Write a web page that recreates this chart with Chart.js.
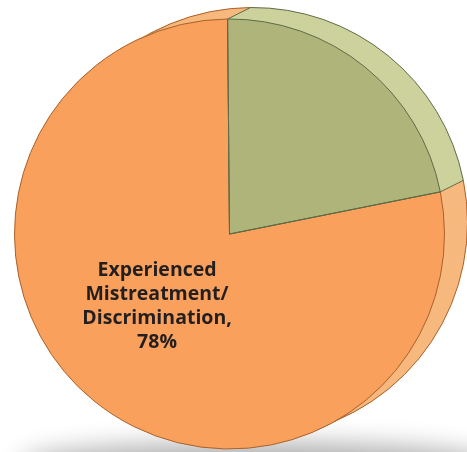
<!DOCTYPE html>
<html>
<head>
<meta charset="utf-8">
<script src="https://cdn.jsdelivr.net/npm/chart.js@4.4.0/dist/chart.umd.min.js"></script>
<style>
html,body{margin:0;padding:0;background:#fff;}
#wrap{position:relative;width:467px;height:452px;}
</style>
</head>
<body>
<div id="wrap"><canvas id="c"></canvas></div>
<script>
const categories = ['Experienced Mistreatment/ Discrimination', 'Other'];
const values = [78, 22];
const faceColors = ['#F8A05C', '#AFB47A'];
const rimColors = ['#F7B97F', '#CDD29D'];
const edgeColors = ['#A9622B', '#5F6B47'];
const labelLines = [['Experienced', 'Mistreatment/', 'Discrimination,', '78%'], null];

const DEPTH_X = 23, DEPTH_Y = -11.5;

const depthPlugin = {
  id: 'depth',
  beforeDatasetsDraw(chart) {
    const ctx = chart.ctx;
    const arcs = chart.getDatasetMeta(0).data;
    if (!arcs.length) return;
    const a0 = arcs[0];
    const cx = a0.x, cy = a0.y, r = a0.outerRadius;
    // floor shadow
    ctx.save();
    ctx.shadowColor = 'rgba(0,0,0,0.32)';
    ctx.shadowBlur = 26;
    ctx.shadowOffsetX = 2000;
    ctx.beginPath();
    ctx.ellipse(cx + 30 - 2000, cy + r + 16, r + 25, 22, 0, 0, Math.PI * 2);
    ctx.fillStyle = '#000';
    ctx.fill();
    ctx.restore();
    // rim (side) drawn from back to front
    const steps = 60;
    for (let i = steps; i >= 1; i--) {
      const t = i / steps;
      const ox = cx + DEPTH_X * t, oy = cy + DEPTH_Y * t;
      arcs.forEach((arc, k) => {
        ctx.beginPath();
        ctx.moveTo(ox, oy);
        ctx.arc(ox, oy, r, arc.startAngle, arc.endAngle);
        ctx.closePath();
        ctx.fillStyle = rimColors[k];
        ctx.fill();
      });
    }
    // back outline
    ctx.save();
    ctx.lineWidth = 1;
    arcs.forEach((arc, k) => {
      ctx.beginPath();
      ctx.arc(cx + DEPTH_X, cy + DEPTH_Y, r, arc.startAngle, arc.endAngle);
      ctx.strokeStyle = edgeColors[k];
      ctx.stroke();
    });
    // depth edges at slice boundaries
    arcs.forEach((arc) => {
      const ang = arc.startAngle;
      const px = cx + r * Math.cos(ang), py = cy + r * Math.sin(ang);
      ctx.beginPath();
      ctx.moveTo(px, py);
      ctx.lineTo(px + DEPTH_X, py + DEPTH_Y);
      ctx.strokeStyle = edgeColors[1];
      ctx.stroke();
    });
    ctx.restore();
  },
  afterDatasetsDraw(chart) {
    const ctx = chart.ctx;
    const arcs = chart.getDatasetMeta(0).data;
    // redraw green edges over orange borders
    const g = arcs[1];
    ctx.save();
    ctx.lineWidth = 1;
    ctx.strokeStyle = edgeColors[1];
    ctx.beginPath();
    ctx.moveTo(g.x + g.outerRadius * Math.cos(g.startAngle), g.y + g.outerRadius * Math.sin(g.startAngle));
    ctx.lineTo(g.x, g.y);
    ctx.lineTo(g.x + g.outerRadius * Math.cos(g.endAngle), g.y + g.outerRadius * Math.sin(g.endAngle));
    ctx.stroke();
    ctx.restore();
    // labels
    arcs.forEach((arc, k) => {
      const lines = labelLines[k];
      if (!lines) return;
      const r = arc.outerRadius;
      const lx = arc.x - 0.337 * r;
      const ly = arc.y + 0.335 * r;
      ctx.save();
      ctx.font = 'bold 19.5px "Open Sans", "Noto Sans", sans-serif';
      ctx.fillStyle = '#231F20';
      ctx.textAlign = 'center';
      ctx.textBaseline = 'alphabetic';
      const lh = 24;
      const baseTop = ly - (lines.length * lh) / 2 + 18;
      lines.forEach((ln, i) => ctx.fillText(ln, lx, baseTop + i * lh));
      ctx.restore();
    });
  }
};

new Chart(document.getElementById('c'), {
  type: 'pie',
  data: {
    labels: categories,
    datasets: [{
      data: values,
      backgroundColor: faceColors,
      borderColor: edgeColors,
      borderWidth: 1
    }]
  },
  options: {
    responsive: true,
    maintainAspectRatio: false,
    animation: false,
    radius: 215,
    rotation: 78.7,
    layout: { padding: { left: 0, right: 8, top: 16, bottom: 0 } },
    plugins: { legend: { display: false }, tooltip: { enabled: false } },
    events: []
  },
  plugins: [depthPlugin]
});
</script>
</body>
</html>
